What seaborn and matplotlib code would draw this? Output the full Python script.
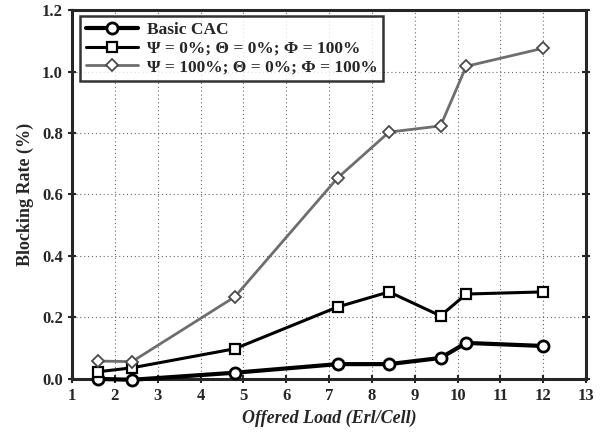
import matplotlib
matplotlib.use("Agg")
import matplotlib.pyplot as plt
import seaborn as sns
import pandas as pd

load = [1.6, 2.4, 4.8, 7.2, 8.4, 9.6, 10.2, 12.0]
basic_cac = [0.0, -0.003, 0.02, 0.048, 0.048, 0.068, 0.117, 0.107]
psi0 = [0.023, 0.036, 0.098, 0.234, 0.283, 0.205, 0.276, 0.283]
psi100 = [0.058, 0.056, 0.267, 0.654, 0.803, 0.823, 1.017, 1.076]
labels = ["Basic CAC",
          "Ψ = 0%; Θ = 0%; Φ = 100%",
          "Ψ = 100%; Θ = 0%; Φ = 100%"]

sns.set_style("ticks")
plt.rcParams['font.family'] = ['Liberation Serif', 'DejaVu Serif']
plt.rcParams['font.weight'] = 'bold'

fig = plt.figure(figsize=(6, 4.38), dpi=100)
ax = fig.add_axes([0.12, 0.135, 0.857, 0.842])

df = pd.DataFrame({
    "load": load * 3,
    "rate": basic_cac + psi0 + psi100,
    "series": [labels[0]] * len(load) + [labels[1]] * len(load) + [labels[2]] * len(load),
})

styles = [
    dict(color="black", lw=3.0, marker="o", ms=8, mfc="white", mec="black", mew=2.0),
    dict(color="black", lw=2.2, marker="s", ms=7, mfc="white", mec="black", mew=1.6),
    dict(color="#6e6e6e", lw=2.0, marker="D", ms=6.5, mfc="white", mec="#4a4a4a", mew=1.3),
]
for lab, st in zip(labels, styles):
    sub = df[df["series"] == lab]
    sns.lineplot(data=sub, x="load", y="rate", ax=ax, label=lab,
                 color=st["color"], linewidth=st["lw"], marker=st["marker"],
                 markersize=st["ms"], markerfacecolor=st["mfc"],
                 markeredgecolor=st["mec"], markeredgewidth=st["mew"],
                 zorder=3, clip_on=False)

ax.set_xlim(1, 13)
ax.set_ylim(0, 1.2)
ax.set_xticks(range(1, 14))
ax.set_yticks([0.0, 0.2, 0.4, 0.6, 0.8, 1.0, 1.2])
ax.set_yticklabels(["0.0", "0.2", "0.4", "0.6", "0.8", "1.0", "1.2"])
ax.grid(True, linestyle=(0, (1, 2.5)), color="#666666", linewidth=0.8)
for s in ax.spines.values():
    s.set_linewidth(2.2)
    s.set_visible(True)
ax.tick_params(direction="inout", length=6, width=1.5, labelsize=12,
               top=False, right=True)
for t in ax.get_xticklabels() + ax.get_yticklabels():
    t.set_fontweight("bold")
ax.set_xlabel("Offered Load (Erl/Cell)", fontsize=13, fontweight="bold", fontstyle="italic")
ax.set_ylabel("Blocking Rate (%)", fontsize=13, fontweight="bold", labelpad=6)

leg = ax.legend(loc="upper left", bbox_to_anchor=(0.015, 0.985), handlelength=3.0,
                fontsize=12.5, frameon=True, fancybox=False, edgecolor="black",
                borderpad=0.35, labelspacing=0.15, handletextpad=0.5, borderaxespad=0)
leg.get_frame().set_linewidth(1.8)
for t in leg.get_texts():
    t.set_fontweight("bold")

fig.savefig("out.png", dpi=100)
